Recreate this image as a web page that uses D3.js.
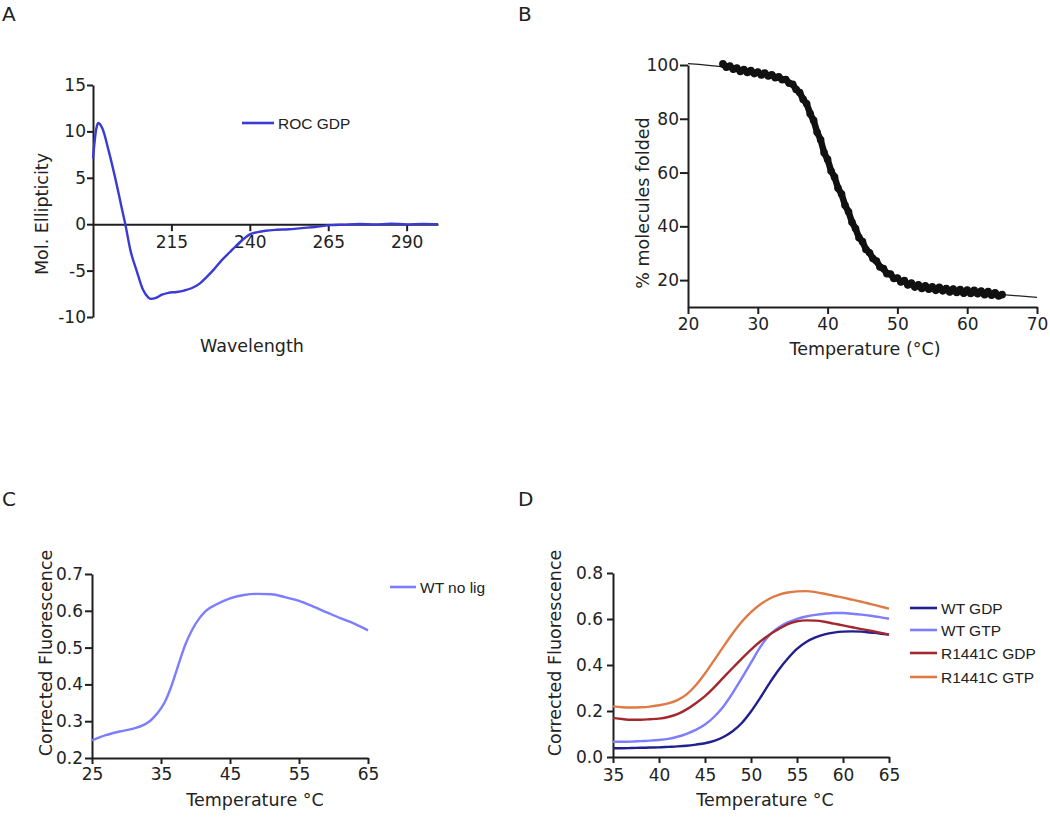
<!DOCTYPE html>
<html><head><meta charset="utf-8">
<script src="https://cdn.jsdelivr.net/npm/d3@7"></script>
<style>
body{margin:0;background:#fff;}
svg text{font-family:"DejaVu Sans",sans-serif;fill:#222;}
</style></head><body>
<svg id="chart" width="1050" height="820"></svg>
<script>
// ---------- Panel A : CD spectrum ----------
const aWavelength = [190,191,191.7,193,195,197,199,200.3,202,204,206,207.5,208.7,210,212,214,216.7,219,221.4,224,226.2,228.5,231,233.5,235.7,238,240,242.5,245,248.5,252.4,256.5,260.8,266,270,275,280,285,290,295,300];
const aEllipticity = [7.1,10.2,10.9,10.3,7.9,5.1,2.0,0,-2.9,-5.1,-7.1,-7.85,-8.05,-7.95,-7.6,-7.4,-7.3,-7.15,-6.9,-6.4,-5.7,-4.9,-3.9,-3.05,-2.3,-1.6,-1.1,-0.85,-0.7,-0.6,-0.55,-0.42,-0.3,-0.1,-0.05,0.02,-0.03,0.05,-0.02,0.03,0];
const aXTicks = [215,240,265,290];
const aYTicks = [-10,-5,0,5,10,15];
const aSeriesName = "ROC GDP";

// ---------- Panel B : thermal unfolding ----------
const bTempData = [25,25.5,26,26.5,27,27.5,28,28.5,29,29.5,30,30.5,31,31.5,32,32.5,33,33.5,34,34.5,35,35.5,36,36.5,37,37.5,38,38.5,39,39.5,40,40.5,41,41.5,42,42.5,43,43.5,44,44.5,45,45.5,46,46.5,47,47.5,48,48.5,49,49.5,50,50.5,51,51.5,52,52.5,53,53.5,54,54.5,55,55.5,56,56.5,57,57.5,58,58.5,59,59.5,60,60.5,61,61.5,62,62.5,63,63.5,64,64.5,65];
const bFoldedData = [100.4,99.2,99.6,98.4,98.9,97.6,98.3,97.2,97.9,96.8,97.4,96.3,97.0,95.9,96.4,95.3,95.6,94.5,94.6,93.2,92.8,90.9,89.8,87.2,85.6,81.9,79.4,75.0,72.2,67.4,64.9,60.6,58.3,54.2,52.0,47.8,45.4,41.5,39.2,35.8,34.3,31.4,30.2,28.0,27.1,24.9,24.3,22.4,22.3,20.6,20.8,19.3,19.8,18.2,18.9,17.4,18.3,16.9,17.9,16.6,17.5,16.2,17.3,16.0,16.9,15.6,16.7,15.4,16.5,15.1,16.3,15.0,16.2,14.9,15.9,14.6,15.7,14.4,15.3,14.1,14.6];
const bTempFit = [20,25,30,33,35,36,37,38,39,40,41,42,43,44,45,46,47,48,49,50,52,55,60,65,70];
const bFoldedFit = [100.5,99.3,97.3,95.5,93,90,85.5,79.5,72,64.5,57.5,51,45,39.5,34.5,30.3,27,24.2,22.2,20.7,18.7,17,15.8,14.6,13.6];
const bXTicks = [20,30,40,50,60,70];
const bYTicks = [20,40,60,80,100];

// ---------- Panel C : WT no ligand ----------
const cTemp = [25,27,29,31,32.5,33.5,34.5,35.5,36.5,37.5,38.5,39.5,40.5,41.5,43,45,47,49,51,53,55,57,59,61,63,65];
const cFluor = [0.248,0.262,0.272,0.28,0.29,0.302,0.322,0.35,0.395,0.452,0.507,0.548,0.578,0.6,0.617,0.634,0.643,0.646,0.645,0.637,0.627,0.612,0.596,0.58,0.565,0.547];
const cXTicks = [25,35,45,55,65];
const cYTicks = [0.2,0.3,0.4,0.5,0.6,0.7];
const cSeriesName = "WT no lig";

// ---------- Panel D : four conditions ----------
const dTemp = [35,36,37,38,39,40,41,42,43,44,45,46,47,48,49,50,51,52,53,54,55,56,57,58,59,60,61,62,63,64,65];
const dWtGdp = [.038,.038,.039,.040,.041,.042,.044,.046,.049,.054,.060,.070,.087,.112,.148,.198,.257,.320,.378,.428,.470,.500,.520,.533,.541,.545,.546,.545,.541,.537,.532];
const dWtGtp = [.066,.066,.067,.069,.071,.074,.079,.088,.101,.118,.141,.175,.220,.278,.343,.410,.478,.530,.563,.585,.601,.611,.618,.623,.626,.626,.623,.619,.614,.608,.601];
const dRGdp = [.170,.165,.162,.162,.164,.167,.174,.186,.207,.234,.265,.303,.345,.387,.428,.467,.502,.532,.556,.578,.590,.594,.593,.588,.580,.572,.564,.556,.549,.541,.532];
const dRGtp = [.220,.216,.215,.216,.219,.225,.233,.247,.272,.312,.363,.421,.480,.537,.588,.630,.663,.688,.705,.715,.720,.721,.717,.710,.701,.693,.684,.675,.665,.655,.645];
const dSeriesNames = ["WT GDP","WT GTP","R1441C GDP","R1441C GTP"];
const dColors = ["#1f1f8f","#7d7dff","#a3282e","#e07a45"];
const dXTicks = [35,40,45,50,55,60,65];
const dYTicks = [0.0,0.2,0.4,0.6,0.8];

const svg = d3.select("#chart");
const AX = "#1e1e1e";

function styleAxis(g){
  g.attr("font-family","DejaVu Sans").attr("font-size",17);
  g.select(".domain").attr("stroke",AX).attr("stroke-width",2);
  g.selectAll(".tick line").attr("stroke",AX).attr("stroke-width",2);
  g.selectAll(".tick text").attr("fill","#222");
}
function panelLetter(t,x,y){
  svg.append("text").attr("x",x).attr("y",y).attr("font-size",20).text(t);
}
function yTitle(t,x,cy){
  svg.append("text").attr("transform",`translate(${x},${cy}) rotate(-90)`)
    .attr("text-anchor","middle").attr("font-size",17.5).text(t);
}
function xTitle(t,cx,y){
  svg.append("text").attr("x",cx).attr("y",y).attr("text-anchor","middle").attr("font-size",17.5).text(t);
}
function legendItem(x1,x2,y,color,label){
  svg.append("line").attr("x1",x1).attr("x2",x2).attr("y1",y).attr("y2",y)
    .attr("stroke",color).attr("stroke-width",2.6);
  svg.append("text").attr("x",x2+4).attr("y",y+5.5)
    .style("font-family","'Liberation Sans',Arial,sans-serif").attr("font-size",15.5).text(label);
}
const plainFmt = d => String(d);

// ===== Panel A =====
{
  const x = d3.scaleLinear().domain([190,300]).range([93,438]);
  const y = d3.scaleLinear().domain([-10,15]).range([317,85]);
  const gx = svg.append("g").attr("transform",`translate(0,${y(0)})`)
    .call(d3.axisBottom(x).tickValues(aXTicks).tickSize(7).tickPadding(5).tickSizeOuter(0));
  styleAxis(gx);
  const gy = svg.append("g").attr("transform",`translate(${x(190)},0)`)
    .call(d3.axisLeft(y).tickValues(aYTicks).tickSize(6).tickPadding(1).tickSizeOuter(0).tickFormat(plainFmt));
  styleAxis(gy);
  const line = d3.line().x((d,i)=>x(aWavelength[i])).y(d=>y(d)).curve(d3.curveMonotoneX);
  svg.append("path").datum(aEllipticity).attr("d",line).attr("fill","none")
    .attr("stroke","#3a3ad4").attr("stroke-width",2.4);
  legendItem(242,274,123,"#3a3ad4",aSeriesName);
  yTitle("Mol. Ellipticity",48,214);
  xTitle("Wavelength",252,352);
  panelLetter("A",2,21);
}

// ===== Panel B =====
{
  const x = d3.scaleLinear().domain([20,70]).range([688,1037]);
  const y = d3.scaleLinear().domain([10,100]).range([307,65]);
  const gx = svg.append("g").attr("transform",`translate(0,${y(10)})`)
    .call(d3.axisBottom(x).tickValues(bXTicks).tickSize(7).tickPadding(4).tickSizeOuter(0));
  styleAxis(gx);
  const gy = svg.append("g").attr("transform",`translate(${x(20)},0)`)
    .call(d3.axisLeft(y).tickValues(bYTicks).tickSize(8).tickPadding(1).tickSizeOuter(0));
  styleAxis(gy);
  const fitLine = d3.line().x((d,i)=>x(bTempFit[i])).y(d=>y(d)).curve(d3.curveMonotoneX);
  svg.append("path").datum(bFoldedFit).attr("d",fitLine).attr("fill","none")
    .attr("stroke","#222").attr("stroke-width",1.3);
  const dataLine = d3.line().x((d,i)=>x(bTempData[i])).y(d=>y(d));
  svg.append("path").datum(bFoldedData).attr("d",dataLine).attr("fill","none")
    .attr("stroke","#111").attr("stroke-width",6.5).attr("stroke-linejoin","round");
  svg.append("g").selectAll("circle").data(bFoldedData).join("circle")
    .attr("cx",(d,i)=>x(bTempData[i])).attr("cy",d=>y(d)).attr("r",3.8).attr("fill","#111");
  yTitle("% molecules folded",649,203);
  xTitle("Temperature (°C)",865,355);
  panelLetter("B",518,21);
}

// ===== Panel C =====
{
  const x = d3.scaleLinear().domain([25,65]).range([92,368]);
  const y = d3.scaleLinear().domain([0.2,0.7]).range([758,574]);
  const gx = svg.append("g").attr("transform",`translate(0,${y(0.2)})`)
    .call(d3.axisBottom(x).tickValues(cXTicks).tickSize(6).tickPadding(4).tickSizeOuter(0));
  styleAxis(gx);
  const gy = svg.append("g").attr("transform",`translate(${x(25)},0)`)
    .call(d3.axisLeft(y).tickValues(cYTicks).tickSize(7).tickPadding(2).tickSizeOuter(0).tickFormat(d3.format(".1f")));
  styleAxis(gy);
  const line = d3.line().x((d,i)=>x(cTemp[i])).y(d=>y(d)).curve(d3.curveMonotoneX);
  svg.append("path").datum(cFluor).attr("d",line).attr("fill","none")
    .attr("stroke","#7d7dff").attr("stroke-width",2.4);
  legendItem(390,416,587,"#7d7dff",cSeriesName);
  yTitle("Corrected Fluorescence",52,653);
  xTitle("Temperature °C",255,806);
  panelLetter("C",2,506);
}

// ===== Panel D =====
{
  const x = d3.scaleLinear().domain([35,65]).range([613,889]);
  const y = d3.scaleLinear().domain([0,0.8]).range([757,573]);
  const gx = svg.append("g").attr("transform",`translate(0,${y(0)})`)
    .call(d3.axisBottom(x).tickValues(dXTicks).tickSize(6).tickPadding(6).tickSizeOuter(0));
  styleAxis(gx);
  const gy = svg.append("g").attr("transform",`translate(${x(35)},0)`)
    .call(d3.axisLeft(y).tickValues(dYTicks).tickSize(6).tickPadding(4).tickSizeOuter(0).tickFormat(d3.format(".1f")));
  styleAxis(gy);
  const series = [dWtGdp,dWtGtp,dRGdp,dRGtp];
  const line = d3.line().x((d,i)=>x(dTemp[i])).y(d=>y(d)).curve(d3.curveMonotoneX);
  series.forEach((s,k)=>{
    svg.append("path").datum(s).attr("d",line).attr("fill","none")
      .attr("stroke",dColors[k]).attr("stroke-width",2.4);
  });
  const legY = [608,630,653,677];
  dSeriesNames.forEach((n,k)=>legendItem(910,937,legY[k],dColors[k],n));
  yTitle("Corrected Fluorescence",561,653);
  xTitle("Temperature °C",765,806);
  panelLetter("D",518,506);
}
</script>
</body></html>
